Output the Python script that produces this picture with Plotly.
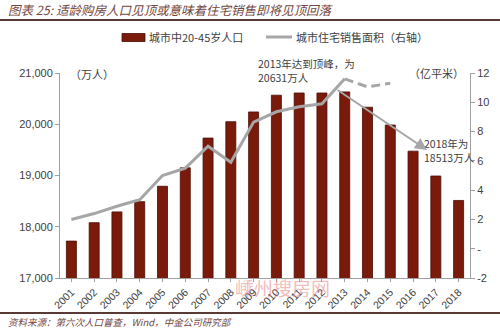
import plotly.graph_objects as go

years = [str(y) for y in range(2001, 2019)]
population = [17720, 18080, 18290, 18490, 18790, 19150, 19730, 20050, 20240,
              20567, 20610, 20610, 20631, 20333, 19985, 19475, 18990, 18513]
sales_years = [str(y) for y in range(2001, 2014)]
sales_area = [2.0, 2.4, 2.9, 3.35, 5.0, 5.5, 7.0, 5.9, 8.65, 9.35, 9.7, 9.9, 11.6]
sales_years_dash = ["2013", "2014", "2015"]
sales_area_dash = [11.6, 11.05, 11.3]
right_ticks = [12, 10, 8, 6, 4, 2, 0, -2]
right_ticktext = ["12", "10", "8", "6", "4", "2", "-", "-2"]
bar_name = "城市中20-45岁人口"
line_name = "城市住宅销售面积（右轴）"

BAR = "#7A1A0A"
LINE = "#A6A6A6"
TXT = "#404040"
FONT = "Liberation Sans, Noto Sans CJK SC, sans-serif"
CJK = "Noto Sans CJK SC, sans-serif"

fig = go.Figure()
fig.add_trace(go.Bar(x=years, y=population, name=bar_name,
                     marker=dict(color=BAR, line=dict(color="#4A0E05", width=0.8)),
                     width=0.44))
fig.add_trace(go.Scatter(x=sales_years, y=sales_area, name=line_name,
                         mode="lines", line=dict(color=LINE, width=3), yaxis="y2"))
fig.add_trace(go.Scatter(x=sales_years_dash, y=sales_area_dash,
                         mode="lines", line=dict(color=LINE, width=3, dash="9px,5px"), yaxis="y2"))

L, R, T, B = 60, 30, 73, 54
W, H = 500, 332
pw, ph = W - L - R, H - T - B

def px(x):
    return (x - L) / pw

def py(y):
    return (H - B - y) / ph

annotations = [
    dict(text="<i>图表 25: 适龄购房人口见顶或意味着住宅销售即将见顶回落</i>", x=px(6), y=py(10),
         xref="paper", yref="paper", xanchor="left", yanchor="middle", showarrow=False,
         font=dict(family=CJK, size=12.5, color="#74463E")),
    dict(text="<i>资料来源：第六次人口普查，Wind，中金公司研究部</i>", x=px(6), y=py(322),
         xref="paper", yref="paper", xanchor="left", yanchor="middle", showarrow=False,
         font=dict(family=CJK, size=9.5, color="#74463E")),
    dict(text=bar_name, x=px(147), y=py(37), xref="paper", yref="paper",
         xanchor="left", yanchor="middle", showarrow=False,
         font=dict(family=CJK, size=11, color=TXT)),
    dict(text=line_name, x=px(294), y=py(37), xref="paper", yref="paper",
         xanchor="left", yanchor="middle", showarrow=False,
         font=dict(family=CJK, size=11, color=TXT)),
    dict(text="（万人）", x=px(68), y=py(74), xref="paper", yref="paper",
         xanchor="left", yanchor="middle", showarrow=False,
         font=dict(family=CJK, size=11, color=TXT)),
    dict(text="（亿平米）", x=px(466), y=py(73), xref="paper", yref="paper",
         xanchor="right", yanchor="middle", showarrow=False,
         font=dict(family=CJK, size=11, color=TXT)),
    dict(text="2013年达到顶峰，为<br>20631万人", x=px(256), y=py(70), xref="paper", yref="paper",
         xanchor="left", yanchor="middle", align="left", showarrow=False,
         font=dict(family=CJK, size=10.5, color=TXT)),
    dict(text="2018年为<br>18513万人", x=px(422), y=py(150), xref="paper", yref="paper",
         xanchor="left", yanchor="middle", align="left", showarrow=False,
         font=dict(family=CJK, size=10.5, color=TXT)),
    dict(text="嵊州搜房网", x=px(282), y=py(287), xref="paper", yref="paper",
         xanchor="center", yanchor="middle", showarrow=False,
         font=dict(family=CJK, size=19, color="rgba(230,130,130,0.55)")),
    dict(text="", x=px(427), y=py(150), ax=px(336), ay=py(89),
         xref="x domain", yref="y domain", axref="x domain", ayref="y domain",
         showarrow=True, arrowhead=2, arrowsize=1.2, arrowwidth=2, arrowcolor=LINE),
]

shapes = [
    dict(type="line", xref="paper", yref="paper", x0=px(0), x1=px(500), y0=py(20), y1=py(20),
         line=dict(color="#5A3A35", width=2)),
    dict(type="line", xref="paper", yref="paper", x0=px(0), x1=px(500), y0=py(313), y1=py(313),
         line=dict(color="#5A3A35", width=2)),
    dict(type="rect", xref="paper", yref="paper", x0=px(122), x1=px(145), y0=py(41.5), y1=py(33.5),
         fillcolor=BAR, line=dict(color="#4A0E05", width=0.8)),
    dict(type="line", xref="paper", yref="paper", x0=px(266), x1=px(292), y0=py(37), y1=py(37),
         line=dict(color=LINE, width=3)),
]

fig.update_layout(
    width=W, height=H,
    margin=dict(l=L, r=R, t=T, b=B),
    paper_bgcolor="white", plot_bgcolor="white",
    font=dict(family=FONT, size=11, color=TXT),
    showlegend=False,
    xaxis=dict(type="category", tickangle=-45, showline=True, linecolor="#A0A0A0",
               ticks="outside", ticklen=3, tickcolor="#A0A0A0", showgrid=False,
               tickfont=dict(size=10.5, color=TXT)),
    yaxis=dict(range=[17000, 21000], tickvals=[17000, 18000, 19000, 20000, 21000],
               tickformat=",d", showline=True, linecolor="#A0A0A0", ticks="outside",
               ticklen=4, tickcolor="#A0A0A0", showgrid=False, zeroline=False,
               tickfont=dict(size=11, color=TXT)),
    yaxis2=dict(range=[-2, 12], overlaying="y", side="right", tickvals=right_ticks,
                ticktext=right_ticktext, showline=True, linecolor="#A0A0A0",
                ticks="outside", ticklen=4, tickcolor="#A0A0A0", showgrid=False,
                zeroline=False, tickfont=dict(size=11, color=TXT)),
    annotations=annotations,
    shapes=shapes,
)

fig.write_html("out.html")
